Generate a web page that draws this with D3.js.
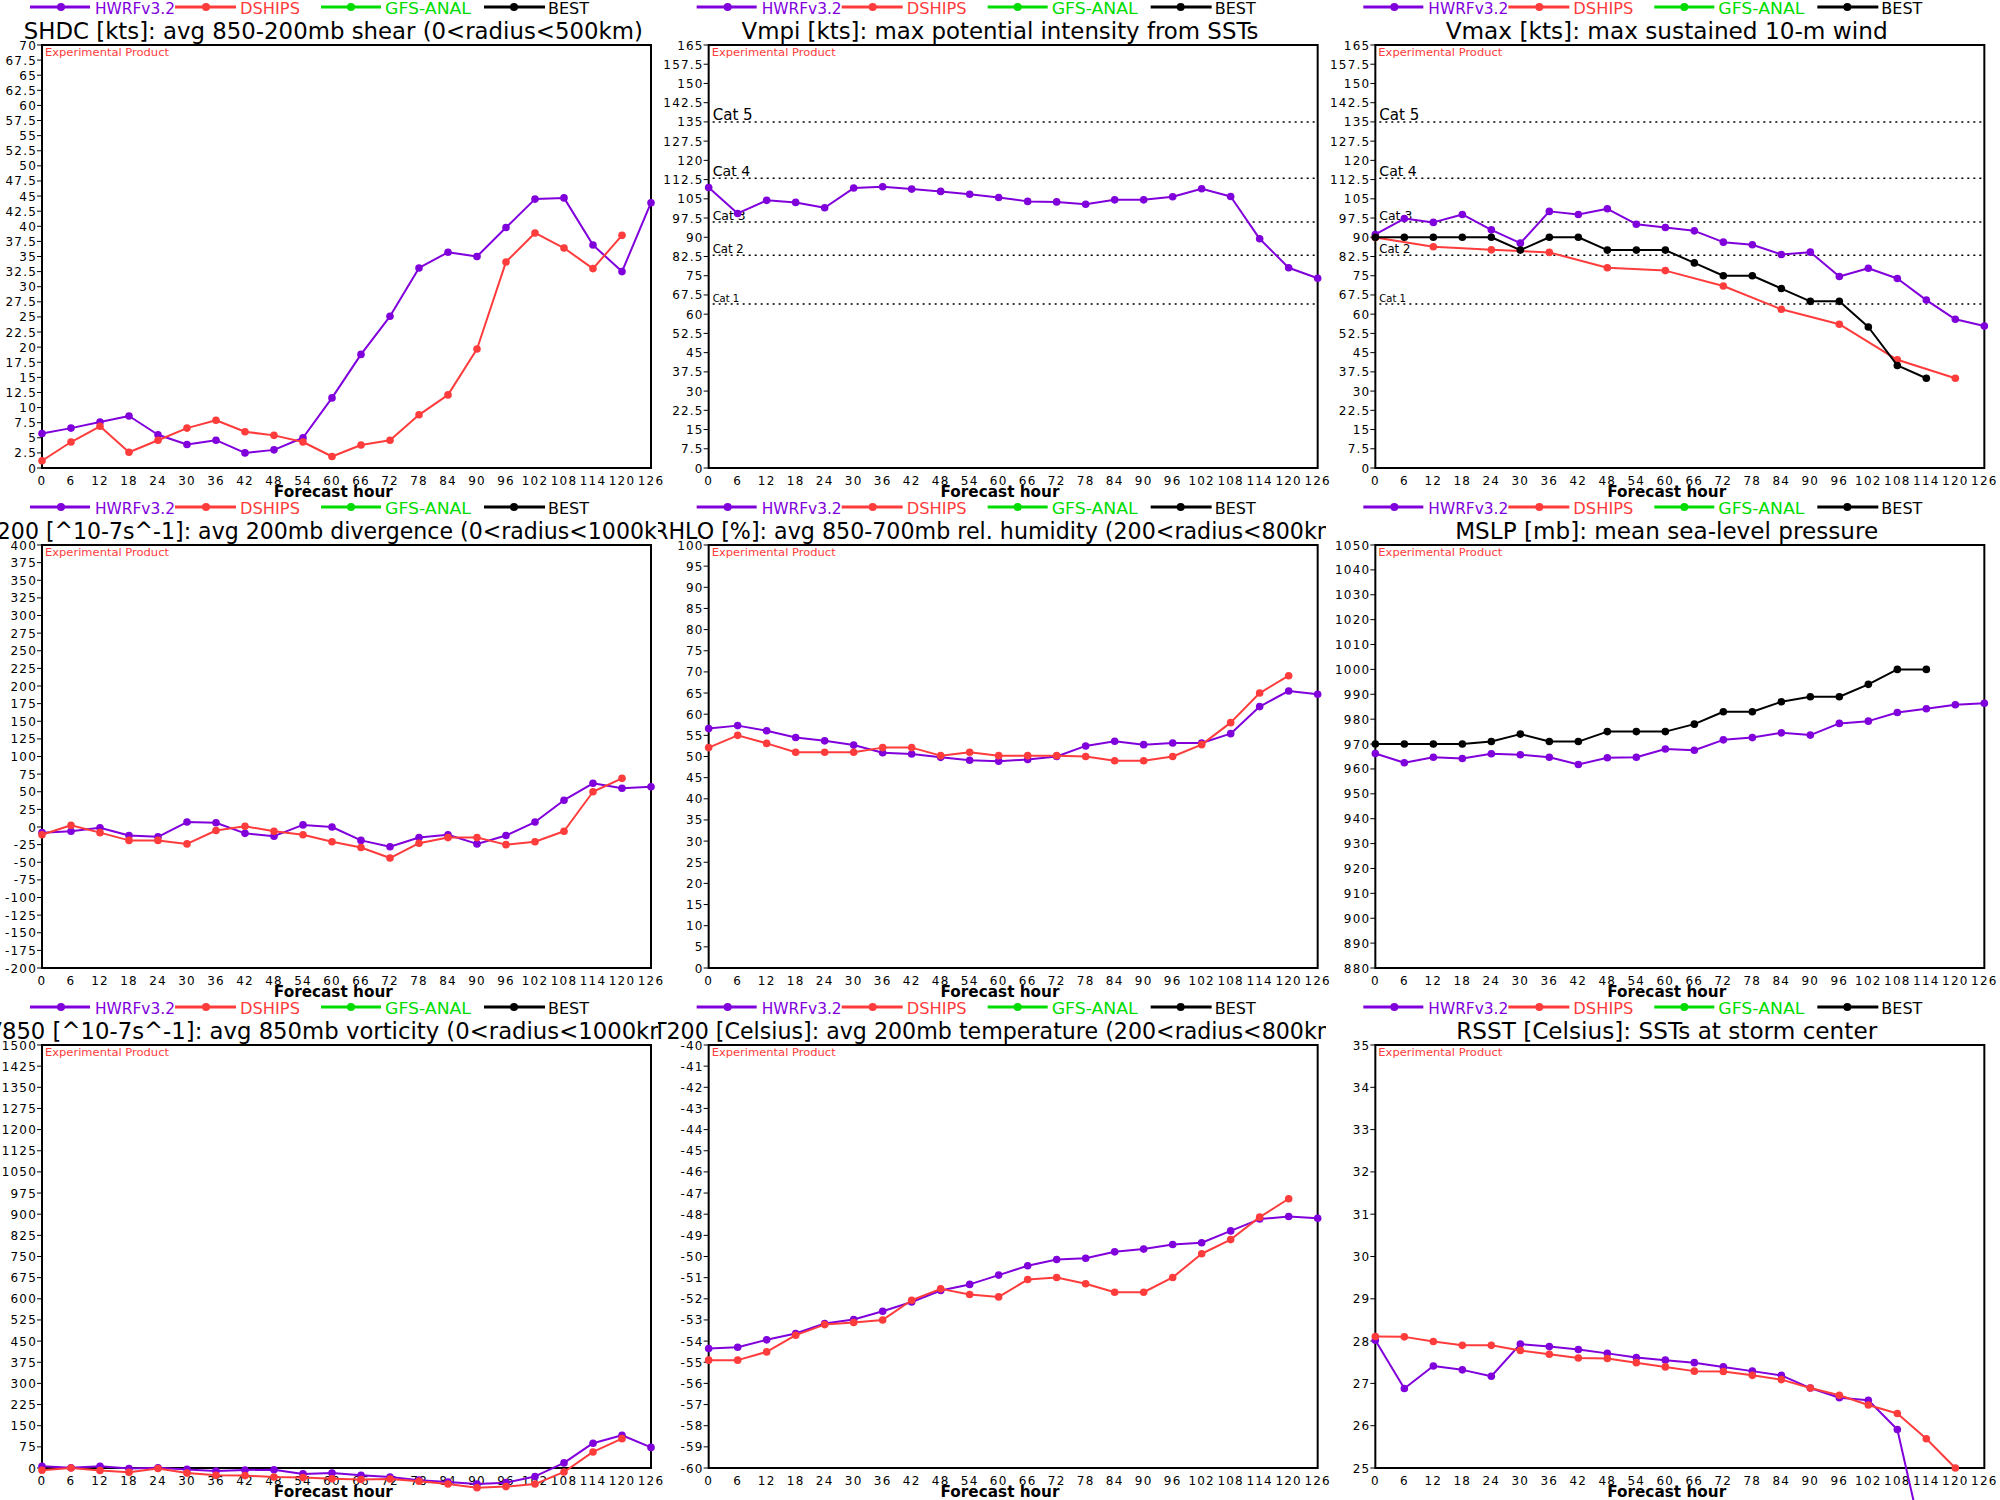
<!DOCTYPE html>
<html><head><meta charset="utf-8">
<script src="https://cdn.jsdelivr.net/npm/d3@7"></script>
<style>body{margin:0;background:#fff}svg{display:block}</style>
</head><body>
<svg id="c" width="2000" height="1500"></svg>
<script>
// ---------- data ----------
const hours = [0,6,12,18,24,30,36,42,48,54,60,66,72,78,84,90,96,102,108,114,120,126];
const seriesNames = ["HWRFv3.2","DSHIPS","GFS-ANAL","BEST"];

const shdcHWRF   = [5.7,6.6,7.6,8.6,5.5,3.9,4.6,2.5,3.0,5.0,11.6,18.8,25.1,33.1,35.7,35.0,39.8,44.5,44.7,36.9,32.5,43.9];
const shdcDSHIPS = [1.2,4.3,6.9,2.6,4.6,6.6,7.9,6.0,5.4,4.3,1.9,3.8,4.6,8.8,12.1,19.7,34.1,38.9,36.4,33.0,38.5,null];

const vmpiHWRF   = [109.4,99.3,104.4,103.6,101.5,109.2,109.7,108.8,107.9,106.8,105.5,104.0,103.8,102.9,104.6,104.6,105.8,108.9,105.9,89.4,78.1,74.0];

const vmaxHWRF   = [91.1,97.3,95.8,98.9,92.9,87.7,100.1,98.9,101.1,95.1,93.8,92.5,88.1,87.1,83.3,84.2,74.7,77.9,73.9,65.5,58.0,55.4];
const vmaxDSHIPS = [89.9,null,86.3,null,85.1,null,84.1,null,78.1,null,77.0,null,71.0,null,61.9,null,56.1,null,42.2,null,35.0,null];
const vmaxBEST   = [90,90,90,90,90,85,90,90,85,85,85,80,75,75,70,65,65,55,40,35,null,null];

const divHWRF    = [-8,-6,-1,-12,-14,7,6,-9,-13,3,0,-19,-28,-15,-11,-24,-12,7,38,62,55,57];
const divDSHIPS  = [-11,2.5,-8,-19,-19,-24,-5,1,-6,-11,-21,-29,-44,-23,-15,-15,-25,-21,-6,50,69,null];

const rhHWRF     = [56.6,57.3,56.1,54.5,53.7,52.7,50.9,50.6,49.8,49.1,48.9,49.3,50.0,52.5,53.6,52.8,53.2,53.2,55.4,61.8,65.5,64.7];
const rhDSHIPS   = [52.1,55.0,53.1,51.0,51.0,51.0,52.1,52.1,50.2,51.0,50.2,50.2,50.2,50.0,49.0,49.0,50.0,52.8,58.0,65.0,69.1,null];

const mslpHWRF   = [966.2,962.5,964.7,964.2,966.1,965.7,964.7,961.8,964.5,964.7,968.0,967.5,971.7,972.6,974.5,973.6,978.3,979.2,982.7,984.2,985.8,986.4];
const mslpBEST   = [970,970,970,970,971,974,971,971,975,975,975,978,983,983,987,989,989,994,1000,1000,null,null];

const vortHWRF   = [6,1,6,-2,1,-5,-11,-7,-6,-21,-18,-26,-32,-43,-50,-57,-52,-30,18,88,116,73];
const vortDSHIPS = [-8,0,-9,-15,-2,-18,-26,-27,-32,-34,-38,-41,-39,-47,-57,-70,-66,-57,-14,57,104,null];

const t200HWRF   = [-54.35,-54.29,-53.94,-53.64,-53.17,-52.98,-52.59,-52.15,-51.61,-51.32,-50.88,-50.44,-50.14,-50.08,-49.78,-49.65,-49.43,-49.35,-48.79,-48.23,-48.11,-48.19];
const t200DSHIPS = [-54.9,-54.9,-54.51,-53.72,-53.22,-53.12,-53.0,-52.07,-51.53,-51.80,-51.91,-51.09,-50.99,-51.29,-51.69,-51.69,-50.99,-49.87,-49.20,-48.14,-47.27,null];

const rsstHWRF   = [28.02,26.88,27.41,27.32,27.17,27.93,27.87,27.80,27.71,27.61,27.55,27.49,27.39,27.29,27.19,26.89,26.66,26.60,25.91,22.9,null,null];
const rsstDSHIPS = [28.11,28.10,27.99,27.90,27.90,27.78,27.69,27.60,27.59,27.49,27.39,27.29,27.28,27.19,27.09,26.89,26.72,26.49,26.29,25.69,25.0,null];

const catLabels = ["Cat 5","Cat 4","Cat 3","Cat 2","Cat 1"];
const catValues = [135,113,96,83,64];

const titles = [
  "SHDC [kts]: avg 850-200mb shear (0<radius<500km)",
  "Vmpi [kts]: max potential intensity from SSTs",
  "Vmax [kts]: max sustained 10-m wind",
  "D200 [^10-7s^-1]: avg 200mb divergence (0<radius<1000km)",
  "RHLO [%]: avg 850-700mb rel. humidity (200<radius<800km)",
  "MSLP [mb]: mean sea-level pressure",
  "V850 [^10-7s^-1]: avg 850mb vorticity (0<radius<1000km)",
  "T200 [Celsius]: avg 200mb temperature (200<radius<800km)",
  "RSST [Celsius]: SSTs at storm center"
];
const yDomains = [[0,70],[0,165],[0,165],[-200,400],[0,100],[880,1050],[0,1500],[-60,-40],[25,35]];
const yTickSteps = [2.5,7.5,7.5,25,5,10,75,1,1];

// ---------- style ----------
const colors = {"HWRFv3.2":"#8000dc","DSHIPS":"#ff3c3c","GFS-ANAL":"#00dc00","BEST":"#000000"};
const FONT = "DejaVu Sans";
const TILE = 2000/3;
const PW = 609, PH = 423;

const panels = [
  {series:{"HWRFv3.2":shdcHWRF,"DSHIPS":shdcDSHIPS}},
  {series:{"HWRFv3.2":vmpiHWRF}, cats:true},
  {series:{"HWRFv3.2":vmaxHWRF,"DSHIPS":vmaxDSHIPS,"BEST":vmaxBEST}, cats:true},
  {series:{"HWRFv3.2":divHWRF,"DSHIPS":divDSHIPS}},
  {series:{"HWRFv3.2":rhHWRF,"DSHIPS":rhDSHIPS}},
  {series:{"HWRFv3.2":mslpHWRF,"BEST":mslpBEST}},
  {series:{"HWRFv3.2":vortHWRF,"DSHIPS":vortDSHIPS}},
  {series:{"HWRFv3.2":t200HWRF,"DSHIPS":t200DSHIPS}},
  {series:{"HWRFv3.2":rsstHWRF,"DSHIPS":rsstDSHIPS}}
];
const titleWidths = [619,517,442,707,694,423,694,694,421];

const svg = d3.select("#c");
svg.append("rect").attr("width",2000).attr("height",1500).attr("fill","#fff");

// title clip regions per column
const clipBounds = [[-50,658],[658,1326],[1326,2050]];
const defs = svg.append("defs");
clipBounds.forEach((b,i)=>{
  defs.append("clipPath").attr("id","tclip"+i)
    .append("rect").attr("x",b[0]).attr("y",0).attr("width",b[1]-b[0]).attr("height",1500);
});

const legendLayout = [
  {l0:30,l1:90,m:61,t:95,tl:80},
  {l0:175,l1:236,m:206,t:240,tl:60},
  {l0:321,l1:381,m:351,t:385,tl:86},
  {l0:484,l1:545,m:514,t:548,tl:41}
];

const fmt = v => {
  const s = (Math.round(v*10)/10).toString();
  return s;
};

panels.forEach((p,i)=>{
  const col = i%3, row = Math.floor(i/3);
  const tx = col*TILE;
  const x0 = 42 + tx, y0 = 45 + row*500;
  const g = svg.append("g");

  const x = d3.scaleLinear().domain([0,126]).range([x0,x0+PW]);
  const y = d3.scaleLinear().domain(yDomains[i]).range([y0+PH,y0]);

  // legend
  seriesNames.forEach((name,k)=>{
    const L = legendLayout[k];
    const ly = 7 + row*500;
    g.append("line").attr("x1",tx+L.l0).attr("x2",tx+L.l1).attr("y1",ly).attr("y2",ly)
      .attr("stroke",colors[name]).attr("stroke-width",3);
    g.append("circle").attr("cx",tx+L.m).attr("cy",ly).attr("r",4).attr("fill",colors[name]);
    g.append("text").attr("x",tx+L.t).attr("y",13.5+row*500).text(name)
      .attr("font-family",FONT).attr("font-size",15).attr("fill",colors[name])
      .attr("textLength",L.tl).attr("lengthAdjust","spacingAndGlyphs");
  });

  // title
  g.append("text").attr("x",tx+TILE/2).attr("y",38.5+row*500).text(titles[i])
    .attr("text-anchor","middle").attr("font-family",FONT).attr("font-size",23)
    .attr("fill","#000").attr("textLength",titleWidths[i]).attr("lengthAdjust","spacingAndGlyphs")
    .attr("clip-path",`url(#tclip${col})`);

  // frame
  g.append("rect").attr("x",x0).attr("y",y0).attr("width",PW).attr("height",PH)
    .attr("fill","none").attr("stroke","#000").attr("stroke-width",2);

  // y ticks
  const [ymin,ymax] = yDomains[i];
  const yticks = d3.range(ymin, ymax + yTickSteps[i]/2, yTickSteps[i]);
  yticks.forEach(v=>{
    const yy = y(v);
    g.append("line").attr("x1",x0-5).attr("x2",x0).attr("y1",yy).attr("y2",yy)
      .attr("stroke","#000").attr("stroke-width",1);
    g.append("text").attr("x",x0-5).attr("y",yy+4.5).text(fmt(v))
      .attr("text-anchor","end").attr("font-family",FONT).attr("font-size",12)
      .attr("letter-spacing","1.2px").attr("fill","#000");
  });

  // x ticks labels
  hours.forEach(h=>{
    g.append("text").attr("x",x(h)).attr("y",y0+PH+17).text(h)
      .attr("text-anchor","middle").attr("font-family",FONT).attr("font-size",12)
      .attr("letter-spacing","1.2px").attr("fill","#000");
  });
  g.append("text").attr("x",tx+TILE/2).attr("y",y0+PH+29).text("Forecast hour")
    .attr("text-anchor","middle").attr("font-family",FONT).attr("font-size",16)
    .attr("font-weight","bold").attr("fill","#000")
    .attr("textLength",119).attr("lengthAdjust","spacingAndGlyphs");

  // Experimental Product
  g.append("text").attr("x",x0+3).attr("y",y0+11).text("Experimental Product")
    .attr("font-family",FONT).attr("font-size",10.5).attr("fill","#ff3c3c")
    .attr("textLength",124).attr("lengthAdjust","spacingAndGlyphs");

  // category lines
  if (p.cats) {
    const catSizes = [15,14,12.5,12,10];
    const catLens = [40,37.5,33,31,26.5];
    catValues.forEach((cv,k)=>{
      const yy = y(cv);
      g.append("line").attr("x1",x0+4).attr("x2",x0+PW).attr("y1",yy).attr("y2",yy)
        .attr("stroke","#000").attr("stroke-width",1.5).attr("stroke-dasharray","2,4");
      g.append("text").attr("x",x0+4).attr("y",yy-2).text(catLabels[k])
        .attr("font-family",FONT).attr("font-size",catSizes[k]).attr("fill","#000")
        .attr("textLength",catLens[k]).attr("lengthAdjust","spacingAndGlyphs");
    });
  }

  // series
  Object.entries(p.series).forEach(([name,vals])=>{
    const pts = hours.map((h,k)=>[h,vals[k]]).filter(d=>d[1]!=null);
    const line = d3.line().x(d=>x(d[0])).y(d=>y(d[1]));
    g.append("path").attr("d",line(pts)).attr("fill","none")
      .attr("stroke",colors[name]).attr("stroke-width",2).attr("stroke-linejoin","round");
    g.selectAll(null).data(pts).enter().append("circle")
      .attr("cx",d=>x(d[0])).attr("cy",d=>y(d[1])).attr("r",3.8).attr("fill",colors[name]);
  });
});
</script>
</body></html>
